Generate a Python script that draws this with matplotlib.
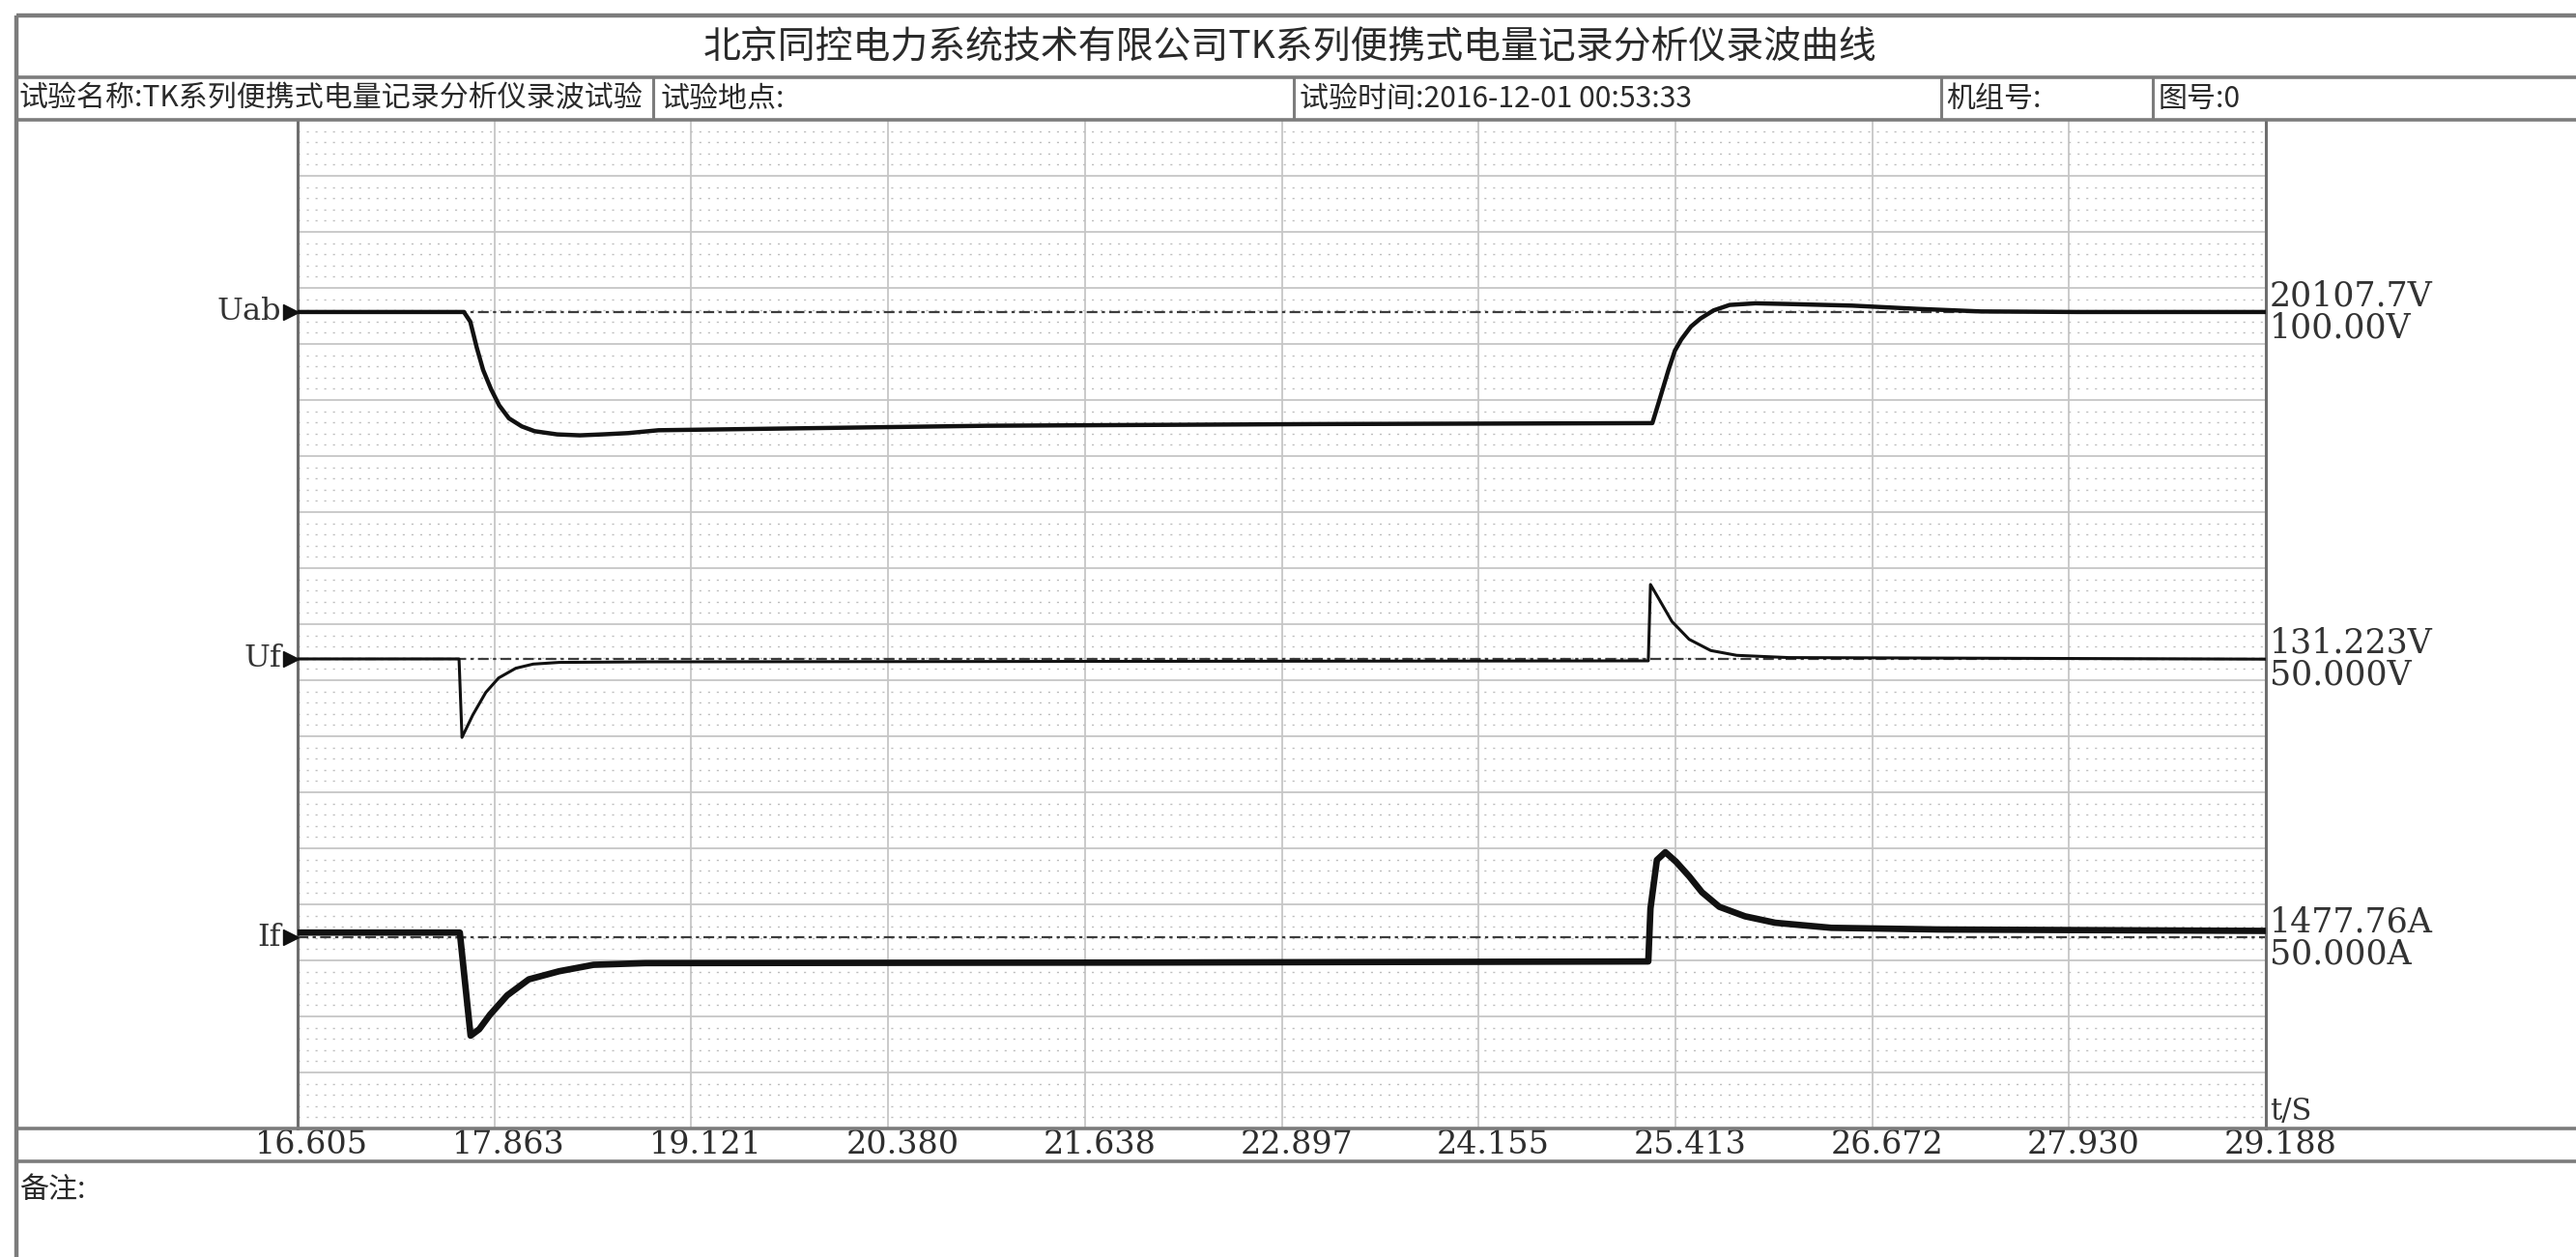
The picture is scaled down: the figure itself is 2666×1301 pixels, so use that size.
import numpy as np
import matplotlib
matplotlib.use("Agg")
import matplotlib.pyplot as plt
from matplotlib.lines import Line2D
from matplotlib.transforms import blended_transform_factory, ScaledTranslation

plt.rcParams['font.family'] = ['Noto Sans CJK SC', 'DejaVu Sans']

# ---- data ----
time_ticks = [16.605, 17.863, 19.121, 20.380, 21.638, 22.897,
              24.155, 25.413, 26.672, 27.930, 29.188]

channel_names = ["Uab", "Uf", "If"]
ref_values = [20107.7, 131.223, 1477.76]
ref_labels = ["20107.7V", "131.223V", "1477.76A"]
scale_labels = ["100.00V", "50.000V", "50.000A"]

uab_t = [16.605, 17.668, 17.709, 17.750, 17.791, 17.842, 17.894, 17.956,
         18.038, 18.120, 18.264, 18.409, 18.553, 18.718, 18.912, 21.009,
         23.106, 25.266, 25.307, 25.338, 25.369, 25.410, 25.451, 25.513,
         25.574, 25.657, 25.760, 25.925, 26.131, 26.543, 26.954, 27.366,
         27.984, 29.188]
uab_v = [20108, 20108, 19936, 19476, 19074, 18729, 18441, 18211,
         18067, 17981, 17924, 17907, 17924, 17947, 17998, 18078,
         18108, 18125, 18498, 18786, 19074, 19418, 19618, 19849,
         19992, 20136, 20234, 20263, 20251, 20222, 20165, 20118,
         20108, 20108]

uf_t = [16.605, 17.637, 17.656, 17.725, 17.808, 17.890, 18.000, 18.111,
        18.277, 18.828, 25.240, 25.254, 25.308, 25.391, 25.501, 25.639,
        25.805, 26.136, 29.188]
uf_v = [131.2, 131.2, 61.2, 81.2, 101.3, 114.2, 122.9, 126.6,
        128.1, 128.6, 129.5, 197.6, 184.7, 164.6, 148.7, 138.7,
        134.4, 132.4, 131.0]

if_t = [16.605, 17.642, 17.711, 17.766, 17.835, 17.945, 18.083, 18.277,
        18.497, 18.828, 22.000, 25.240, 25.254, 25.295, 25.349, 25.417,
        25.501, 25.583, 25.694, 25.859, 26.052, 26.410, 27.100, 29.188]
if_v = [1495, 1495, 1127, 1150, 1202, 1271, 1328, 1357,
        1380, 1386, 1388, 1392, 1581, 1754, 1782, 1748,
        1696, 1639, 1587, 1553, 1530, 1512, 1506, 1501]

traces = [(uab_t, uab_v), (uf_t, uf_v), (if_t, if_v)]

# ---- layout (pixels of the 2666x1301 sheet) ----
W, H = 2666, 1301
PL, PR, PT, PB = 308, 2345, 124, 1168
ref_div = [14.57, 8.38, 3.41]       # where each channel's zero line sits (grid divisions)
gain = [1000.0, 50.0, 200.0]        # units per grid division
trace_lw = [3.2, 2.2, 4.8]
FRAME = '#7c7c7c'
TXT = '#2a2a2a'


def fx(x):
    return x / W


def fy(y):
    return 1 - y / H


fig = plt.figure(figsize=(W / 100, H / 100), dpi=100)
fig.patch.set_facecolor('white')


def hline(y, x0=17, x1=W, lw=2.6, color=FRAME):
    fig.add_artist(Line2D([fx(x0), fx(x1)], [fy(y), fy(y)], transform=fig.transFigure,
                          color=color, lw=lw, solid_capstyle='butt'))


def vline(x, y0, y1, lw=2.6, color=FRAME):
    fig.add_artist(Line2D([fx(x), fx(x)], [fy(y0), fy(y1)], transform=fig.transFigure,
                          color=color, lw=lw, solid_capstyle='butt'))


# sheet frame and table rows
hline(16, lw=3.2)
hline(80)
hline(PT)
hline(PB)
hline(1202)
vline(17, 16, H, lw=3.2)
for xs in [676, 1339, 2009, 2228]:
    vline(xs, 80, PT, lw=2.2)

fig.text(fx(1335), fy(48), "北京同控电力系统技术有限公司TK系列便携式电量记录分析仪录波曲线",
         ha='center', va='center', fontsize=28, color=TXT)
info = [(20, "试验名称:TK系列便携式电量记录分析仪录波试验"),
        (684, "试验地点:"),
        (1345, "试验时间:2016-12-01 00:53:33"),
        (2014, "机组号:"),
        (2233, "图号:0")]
for xs, s in info:
    fig.text(fx(xs), fy(102), s, ha='left', va='center', fontsize=21.6, color=TXT)
fig.text(fx(20), fy(1232), "备注:", ha='left', va='center', fontsize=21.6, color=TXT)

# ---- plot area ----
ax = fig.add_axes([fx(PL), fy(PB), (PR - PL) / W, (PB - PT) / H])
ax.set_xlim(time_ticks[0], time_ticks[-1])
ax.set_ylim(0, 18)
ax.set_xticks(time_ticks)
ax.set_yticks(np.arange(0, 19))
ax.set_yticks(np.arange(0, 18.01, 0.2), minor=True)
ax.tick_params(which='both', length=0, labelbottom=False, labelleft=False)
ax.grid(True, which='major', color='#c6c6c6', lw=1.3)
ax.grid(True, which='minor', axis='y', color='#bdbdbd', lw=1.0, ls=(0, (1.5, 5)))
ax.set_axisbelow(True)
for side in ['top', 'bottom']:
    ax.spines[side].set_visible(False)
for side in ['left', 'right']:
    ax.spines[side].set_color('#6e6e6e')
    ax.spines[side].set_linewidth(2.2)

for i, name in enumerate(channel_names):
    t, v = traces[i]
    y = ref_div[i] + (np.array(v) - ref_values[i]) / gain[i]
    ax.axhline(ref_div[i], color='#3c3c3c', lw=1.6, ls=(0, (5, 2, 1.5, 2)), zorder=2)
    ax.plot(t, y, color='#111111', lw=trace_lw[i], zorder=3, solid_joinstyle='round')

    ax.plot([time_ticks[0]], [ref_div[i]], marker='>', ms=11, color='#111111',
            transform=ax.transData + ScaledTranslation(-0.07, 0, fig.dpi_scale_trans),
            clip_on=False, zorder=4)
    ax.annotate(name, xy=(0, ref_div[i]), xycoords=('axes fraction', 'data'),
                xytext=(-17, 0), textcoords='offset pixels', ha='right', va='center',
                fontsize=23, family='DejaVu Serif', color='#333333')
    ax.annotate(ref_labels[i], xy=(1, ref_div[i]), xycoords=('axes fraction', 'data'),
                xytext=(4, 16), textcoords='offset pixels', ha='left', va='center',
                fontsize=25, family='DejaVu Serif', color='#333333', annotation_clip=False)
    ax.annotate(scale_labels[i], xy=(1, ref_div[i]), xycoords=('axes fraction', 'data'),
                xytext=(4, -17), textcoords='offset pixels', ha='left', va='center',
                fontsize=25, family='DejaVu Serif', color='#333333', annotation_clip=False)

ax.annotate("t/S", xy=(1, 0), xycoords='axes fraction', xytext=(4, 2),
            textcoords='offset pixels', ha='left', va='bottom',
            fontsize=22, family='DejaVu Serif', color='#333333', annotation_clip=False)

# time labels in the row under the plot
lab_tr = blended_transform_factory(ax.transData, fig.transFigure) + \
    ScaledTranslation(0.15, 0, fig.dpi_scale_trans)
for tv in time_ticks:
    ax.text(tv, fy(1185), f"{tv:.3f}", transform=lab_tr, ha='center', va='center',
            fontsize=24, family='DejaVu Serif', color='#2e2e2e', clip_on=False)

fig.savefig("out.png", dpi=100, facecolor='white')
